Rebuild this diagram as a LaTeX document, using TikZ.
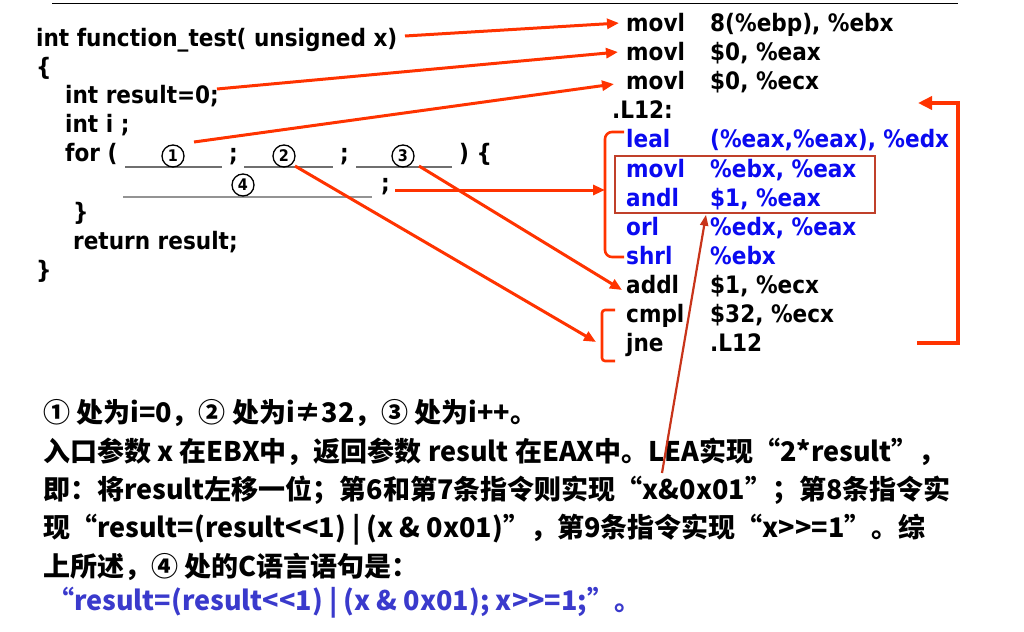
\documentclass[tikz,border=0pt]{standalone}
\usepackage{fontspec}
\usepackage{xcolor}
\usepackage{tikz}
\usetikzlibrary{arrows.meta}
\newfontfamily\codefont{DejaVu Sans}[FakeStretch=0.9]
\newfontfamily\cjkfont{Noto Sans CJK SC}
\definecolor{red}{HTML}{FF3300}
\definecolor{brick}{HTML}{C8341A}
\definecolor{boxc}{HTML}{C0402A}
\definecolor{asm}{HTML}{0A0AF0}
\definecolor{ans}{HTML}{3A3ACC}
\definecolor{blank}{HTML}{6F6F6F}
\tikzset{
  code/.style={anchor=base west, inner sep=0pt, font=\codefont\bfseries\fontsize{24}{24}\selectfont},
  blu/.style={code, text=asm},
  num/.style={circle, draw, line width=1.3pt, minimum size=22pt, inner sep=0pt, font=\codefont\bfseries\fontsize{16}{16}\selectfont},
  gap/.style={draw=blank, line width=1.4pt},
  link/.style={draw=red, line width=3pt, -{Triangle[length=12pt,width=10pt]}},
  brace/.style={draw=red, line width=2.6pt, rounded corners=7pt},
  txt/.style={anchor=base west, inner sep=0pt, font=\cjkfont\bfseries\fontsize{27}{27}\selectfont},
}
\begin{document}
\begin{tikzpicture}[x=1pt,y=-1pt]
  \useasboundingbox (0,0) rectangle (1024,631);
  \draw[line width=1pt] (52,4) -- (958,4);
  % C source
  \node[code] (sig) at (36,47) {int function\_test( unsigned x)};
  \node[code] (lb) at (36,76) {\{};
  \node[code] (res) at (65,104) {int result=0;};
  \node[code] (decl) at (65,133) {int i ;};
  \node[code] (for) at (65,162) {for (};
  \node[code] (sa) at (229,162) {;};
  \node[code] (sb) at (340,162) {;};
  \node[code] (close) at (459,162) {) \{};
  \node[code] (sc) at (381,191) {;};
  \node[code] (rb) at (73,220) {\}};
  \node[code] (ret) at (73,249) {return result;};
  \node[code] (end) at (36,278) {\}};
  \draw[gap] (125,167) -- (222,167);
  \draw[gap] (244,167) -- (333,167);
  \draw[gap] (356,167) -- (452,167);
  \draw[gap, draw=blank!75] (123,197) -- (372,197);
  \node[num] (n1) at (173,156) {1};
  \node[num] (n2) at (284,156) {2};
  \node[num] (n3) at (403,156) {3};
  \node[num] (n4) at (243,185) {4};
  % assembly
  \node[code] (m1) at (626,32) {movl};  \node[code] (o1) at (710,32) {8(\%ebp), \%ebx};
  \node[code] (m2) at (626,61) {movl};  \node[code] (o2) at (710,61) {\$0, \%eax};
  \node[code] (m3) at (626,90) {movl};  \node[code] (o3) at (710,90) {\$0, \%ecx};
  \node[code] (lab) at (612,119) {.L12:};
  \node[blu] (m5) at (626,148) {leal};  \node[blu] (o5) at (710,148) {(\%eax,\%eax), \%edx};
  \node[blu] (m6) at (626,177) {movl};  \node[blu] (o6) at (710,177) {\%ebx, \%eax};
  \node[blu] (m7) at (626,206) {andl};  \node[blu] (o7) at (710,206) {\$1, \%eax};
  \node[blu] (m8) at (626,235) {orl};   \node[blu] (o8) at (710,235) {\%edx, \%eax};
  \node[blu] (m9) at (626,264) {shrl};  \node[blu] (o9) at (710,264) {\%ebx};
  \node[code] (m10) at (626,293) {addl}; \node[code] (o10) at (710,293) {\$1, \%ecx};
  \node[code] (m11) at (626,322) {cmpl}; \node[code] (o11) at (710,322) {\$32, \%ecx};
  \node[code] (m12) at (626,351) {jne};  \node[code] (o12) at (710,351) {.L12};
  \draw[boxc, line width=2pt] (615,156) rectangle (875,213);
  \draw[brace] (624,132) -- (605,132) -- (605,257) -- (624,257);
  \draw[brace, rounded corners=3pt] (615,310) -- (602,310) -- (602,361) -- (615,361);
  \draw[red, line width=4.5pt, -{Triangle[length=14pt,width=13pt]}] (917,343) -- (958,343) -- (958,103) -- (918,103);
  % links
  \coordinate (sigEnd) at (405,36);
  \coordinate (resEnd) at (217,89);
  \coordinate (initEnd) at (194,142);
  \coordinate (bodyEnd) at (395,190);
  \coordinate (condEnd) at (295,166);
  \coordinate (incEnd) at (419,166);
  \coordinate (body) at (605,190);
  \coordinate (test) at (596,342);
  \coordinate (step) at (622,290);
  \draw[link] (sigEnd) -- ([xshift=-7pt]m1.west);
  \draw[link] (resEnd) -- ([xshift=-8pt]m2.west);
  \draw[link] (initEnd) -- ([xshift=-12pt,yshift=-3pt]m3.west);
  \draw[link] (bodyEnd) -- (body);
  \draw[link] (condEnd) -- (test);
  \draw[link] (incEnd) -- (step);
  % notes
  \node[txt] (t1) at (43,422) {① 处为i=0，② 处为i≠32，③ 处为i++。};
  \node[txt] (t2) at (43,461) {入口参数 x 在EBX中，返回参数 result 在EAX中。LEA实现“2*result”，};
  \node[txt] (t3) at (43,499) {即：将result左移一位；第6和第7条指令则实现“x\&0x01”；第8条指令实};
  \node[txt] (t4) at (43,537) {现“result=(result<<1) | (x \& 0x01)”，第9条指令实现“x>>=1”。综};
  \node[txt] (t5) at (43,576) {上所述，④ 处的C语言语句是：};
  \node[txt, text=ans] (t6) at (47,610) {“result=(result<<1) | (x \& 0x01); x>>=1;”。};
  \coordinate (lea) at (662,473);
  \draw[brick, line width=2.2pt, -{Triangle[length=11pt,width=8pt]}] (lea) -- ([xshift=-4pt,yshift=-5pt]o7.south west);
\end{tikzpicture}
\end{document}
